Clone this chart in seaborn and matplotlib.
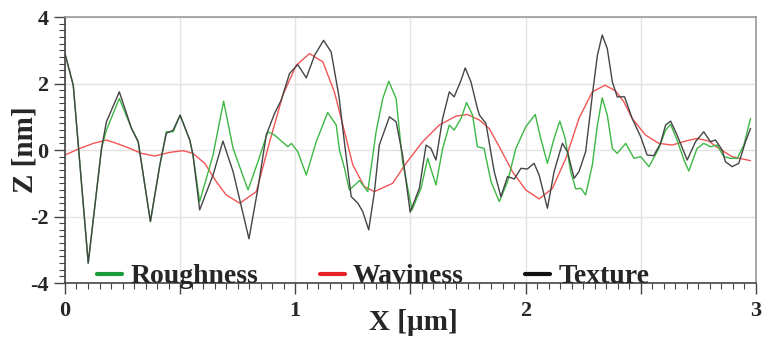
import numpy as np
import pandas as pd
import matplotlib
matplotlib.use('Agg')
import matplotlib.pyplot as plt
from matplotlib.lines import Line2D
from matplotlib.ticker import MultipleLocator, FuncFormatter
import seaborn as sns

# Profile data (x in um, z in nm)
rough_x = [0.000, 0.036, 0.101, 0.159, 0.180, 0.236, 0.289, 0.318, 0.371, 0.412,
           0.440, 0.470, 0.500, 0.542, 0.556, 0.585, 0.643, 0.689, 0.730, 0.795,
           0.838, 0.881, 0.910, 0.968, 0.983, 1.011, 1.048, 1.091, 1.141, 1.178,
           1.192, 1.214, 1.235, 1.279, 1.315, 1.351, 1.380, 1.406, 1.438, 1.466,
           1.507, 1.546, 1.575, 1.611, 1.640, 1.669, 1.690, 1.720, 1.744, 1.770,
           1.791, 1.820, 1.850, 1.886, 1.922, 1.958, 2.001, 2.042, 2.066, 2.095,
           2.124, 2.149, 2.172, 2.196, 2.218, 2.240, 2.261, 2.290, 2.312, 2.333,
           2.355, 2.377, 2.398, 2.435, 2.471, 2.500, 2.536, 2.579, 2.608, 2.630,
           2.658, 2.688, 2.709, 2.745, 2.774, 2.803, 2.832, 2.861, 2.890, 2.919,
           2.948, 2.977]
rough_z = [2.90, 1.95, -3.40, 0.06, 0.60, 1.55, 0.65, 0.25, -2.15, -0.45,
           0.55, 0.55, 1.05, 0.30, -0.15, -1.55, -0.15, 1.47, 0.05, -1.20,
           -0.35, 0.55, 0.45, 0.10, 0.20, -0.05, -0.75, 0.25, 1.13, 0.75,
           0.00, -0.55, -1.20, -0.92, -1.25, 0.55, 1.55, 2.07, 1.55, -0.35,
           -1.80, -1.15, -0.25, -1.05, 0.05, 0.75, 0.60, 0.95, 1.43, 1.05,
           0.10, 0.05, -0.95, -1.55, -0.95, 0.05, 0.70, 1.07, 0.35, -0.40,
           0.35, 0.87, 0.35, -0.65, -1.17, -1.15, -1.35, -0.45, 0.75, 1.57,
           1.05, 0.05, -0.10, 0.20, -0.25, -0.20, -0.50, 0.05, 0.60, 0.77,
           0.30, -0.30, -0.63, 0.05, 0.20, 0.10, 0.15, -0.20, -0.25, -0.25,
           0.15, 0.95]

wavi_x = [0.000, 0.065, 0.123, 0.180, 0.224, 0.282, 0.332, 0.390, 0.455, 0.513,
          0.556, 0.607, 0.657, 0.700, 0.759, 0.831, 0.889, 0.946, 1.004, 1.062,
          1.120, 1.170, 1.214, 1.250, 1.300, 1.344, 1.423, 1.481, 1.553, 1.625,
          1.698, 1.748, 1.800, 1.842, 1.886, 1.943, 2.001, 2.059, 2.117, 2.175,
          2.232, 2.290, 2.345, 2.391, 2.427, 2.463, 2.521, 2.579, 2.637, 2.695,
          2.745, 2.796, 2.839, 2.897, 2.977]
wavi_z = [-0.15, 0.05, 0.20, 0.30, 0.20, 0.05, -0.10, -0.18, -0.07, -0.02,
          -0.10, -0.40, -0.95, -1.35, -1.60, -1.25, 0.25, 1.65, 2.55, 2.90,
          2.65, 1.75, 0.55, -0.45, -1.10, -1.25, -1.00, -0.40, 0.25, 0.75,
          1.02, 1.07, 0.90, 0.65, 0.10, -0.65, -1.20, -1.47, -1.15, -0.25,
          0.95, 1.75, 1.95, 1.78, 1.45, 0.95, 0.45, 0.20, 0.15, 0.27,
          0.35, 0.27, 0.05, -0.20, -0.32]

text_x = [0.000, 0.036, 0.101, 0.159, 0.180, 0.236, 0.289, 0.318, 0.371, 0.412,
          0.440, 0.470, 0.500, 0.542, 0.556, 0.585, 0.643, 0.686, 0.730, 0.766,
          0.799, 0.838, 0.874, 0.910, 0.939, 0.975, 1.011, 1.048, 1.084, 1.123,
          1.156, 1.190, 1.214, 1.243, 1.272, 1.293, 1.319, 1.344, 1.365, 1.409,
          1.438, 1.466, 1.499, 1.539, 1.568, 1.589, 1.611, 1.640, 1.669, 1.690,
          1.720, 1.738, 1.763, 1.791, 1.800, 1.828, 1.864, 1.893, 1.922, 1.951,
          1.980, 2.008, 2.037, 2.059, 2.095, 2.124, 2.160, 2.182, 2.211, 2.232,
          2.261, 2.290, 2.312, 2.333, 2.355, 2.377, 2.398, 2.430, 2.463, 2.500,
          2.528, 2.557, 2.586, 2.608, 2.630, 2.658, 2.702, 2.738, 2.774, 2.803,
          2.825, 2.854, 2.868, 2.897, 2.926, 2.955, 2.977]
text_z = [2.90, 1.95, -3.40, 0.06, 0.85, 1.75, 0.65, 0.25, -2.15, -0.45,
          0.50, 0.60, 1.05, 0.30, -0.15, -1.80, -0.75, 0.27, -0.65, -1.70,
          -2.67, -1.15, 0.45, 1.10, 1.50, 2.30, 2.57, 2.17, 2.85, 3.30,
          2.95, 1.60, 0.20, -1.40, -1.60, -1.85, -2.40, -1.25, 0.15, 1.00,
          0.85, -0.15, -1.87, -1.15, 0.15, 0.05, -0.30, 0.95, 1.75, 1.60,
          2.10, 2.47, 2.05, 1.25, 1.05, 0.80, -0.65, -1.40, -0.80, -0.87,
          -0.55, -0.57, -0.40, -0.75, -1.75, -0.65, 0.20, -0.05, -0.85, -0.65,
          -0.05, 1.65, 2.85, 3.46, 3.05, 2.05, 1.60, 1.60, 0.95, 0.40,
          -0.15, -0.17, 0.20, 0.75, 0.87, 0.45, -0.30, 0.25, 0.55, 0.25,
          0.30, 0.00, -0.35, -0.50, -0.40, 0.25, 0.65]

series_names = ['Roughness', 'Waviness', 'Texture']
line_colors = ['#3db845', '#f25555', '#454545']
legend_colors = ['#1a9a3a', '#e8202a', '#111111']

df = pd.concat([
    pd.DataFrame({'x': rough_x, 'z': rough_z, 'series': 'Roughness'}),
    pd.DataFrame({'x': wavi_x, 'z': wavi_z, 'series': 'Waviness'}),
    pd.DataFrame({'x': text_x, 'z': text_z, 'series': 'Texture'}),
], ignore_index=True)

sns.set_style('white')
plt.rcParams['font.family'] = ['Liberation Serif', 'DejaVu Serif']
plt.rcParams['font.weight'] = 'bold'
plt.rcParams['axes.unicode_minus'] = False

fig = plt.figure(figsize=(7.78, 3.41), dpi=100)
ax = fig.add_axes([0.0835, 0.170, 0.888, 0.780])

# draw texture last so it sits on top like the reference
for name, col in zip(['Waviness', 'Roughness', 'Texture'],
                     [line_colors[1], line_colors[0], line_colors[2]]):
    sns.lineplot(data=df[df['series'] == name], x='x', y='z', color=col,
                 linewidth=1.0, sort=False, estimator=None, ax=ax, legend=False)

ax.set_xlim(0, 3)
ax.set_ylim(-4, 4)
ax.xaxis.set_major_locator(MultipleLocator(0.5))
ax.xaxis.set_minor_locator(MultipleLocator(0.05))
ax.xaxis.set_major_formatter(FuncFormatter(lambda v, p: f'{v:.0f}' if abs(v - round(v)) < 1e-6 else ''))
ax.yaxis.set_major_locator(MultipleLocator(2))
ax.yaxis.set_minor_locator(MultipleLocator(0.2))
ax.grid(True, which='major', color='#e3e3e3', linewidth=1)
ax.set_axisbelow(True)

ax.tick_params(which='both', bottom=True, left=True, top=False, right=False)
ax.tick_params(which='major', direction='out', length=8, width=1, color='#444444',
               labelsize=16, pad=4)
ax.tick_params(which='minor', direction='out', length=4, width=0.8, color='#444444')
ax.tick_params(axis='x', which='major', pad=5)

for s in ['left', 'bottom']:
    ax.spines[s].set_color('#444444')
    ax.spines[s].set_linewidth(1.2)
for s in ['top', 'right']:
    ax.spines[s].set_color('#9a9a9a')
    ax.spines[s].set_linewidth(1.2)

ax.set_xlabel('X [µm]', fontsize=21, fontweight='bold')
ax.set_ylabel('Z [nm]', fontsize=21, fontweight='bold')
ax.xaxis.set_label_coords(0.504, -0.098)
ax.yaxis.set_label_coords(-0.039, 0.5)

handles = [Line2D([0], [0], color=c, linewidth=3) for c in legend_colors]
ax.legend(handles, series_names, loc='lower left', bbox_to_anchor=(0.047, -0.024),
          ncol=3, frameon=False, handlelength=0.9, handletextpad=0.3,
          columnspacing=2.2, borderpad=0, borderaxespad=0,
          prop={'family': 'Liberation Serif', 'weight': 'bold', 'size': 20})

fig.savefig('out.png', dpi=100)
